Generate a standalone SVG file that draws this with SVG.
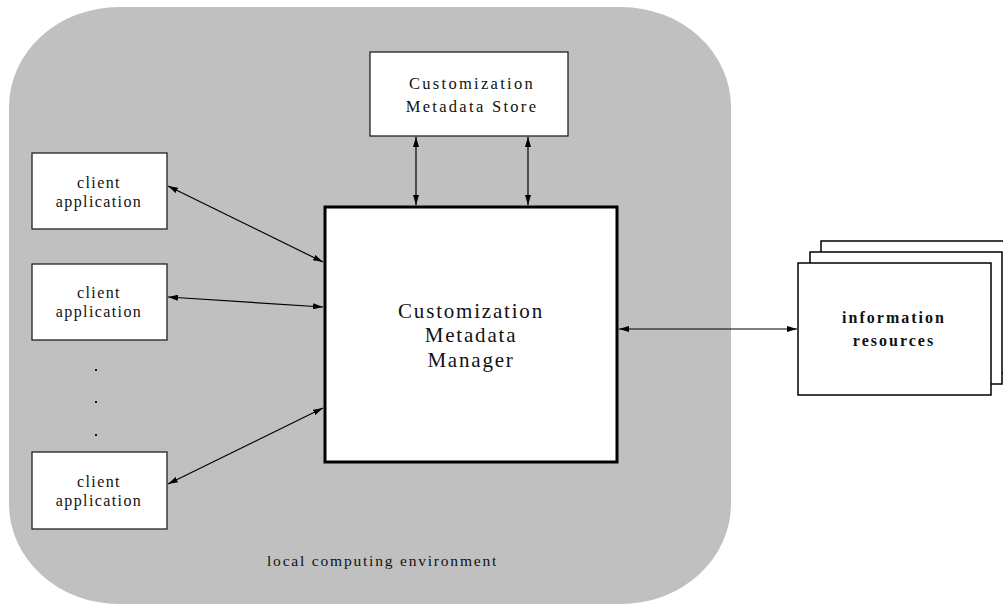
<svg xmlns="http://www.w3.org/2000/svg" width="1003" height="604" viewBox="0 0 1003 604">
  <style>
    text { font-family: "Liberation Serif", "Times New Roman", serif; fill: #111; text-anchor: middle; }
    .box { fill: #fff; stroke: #222; stroke-width: 1.3; }
    .mgr { fill: #fff; stroke: #000; stroke-width: 3; }
    .page { fill: #fff; stroke: #000; stroke-width: 1.5; }
    .client { font-size: 16px; letter-spacing: 1.4px; }
    .store { font-size: 16.5px; letter-spacing: 2.3px; }
    .big { font-size: 21px; letter-spacing: 1.8px; }
    .res { font-size: 16px; font-weight: bold; letter-spacing: 2px; }
    .env { font-size: 15.5px; letter-spacing: 1.8px; text-anchor: start; }
    .link { stroke: #000; stroke-width: 1.2; fill: none; marker-start: url(#head); marker-end: url(#head); }
  </style>
  <defs>
    <marker id="head" viewBox="0 0 10 6" refX="10" refY="3" markerWidth="10" markerHeight="6" markerUnits="userSpaceOnUse" orient="auto-start-reverse">
      <path d="M0,0 L10,3 L0,6 Z" fill="#000"/>
    </marker>
  </defs>

  <!-- local computing environment -->
  <g id="environment">
    <path d="M119,7 H621 A110,100 0 0 1 731,107 V504 A110,100 0 0 1 621,604 H119 A110,100 0 0 1 9,504 V107 A110,100 0 0 1 119,7 Z" fill="#c0c0c0"/>
    <text class="env" x="267" y="566">local computing environment</text>
  </g>

  <g id="store">
    <rect class="box" x="370" y="52" width="198" height="84"/>
    <text class="store" x="472" y="89">Customization</text>
    <text class="store" x="472" y="112">Metadata Store</text>
  </g>

  <g id="manager">
    <rect class="mgr" x="325" y="207" width="292" height="255"/>
    <text class="big" x="471" y="318">Customization</text>
    <text class="big" x="471" y="342">Metadata</text>
    <text class="big" x="471" y="367">Manager</text>
  </g>

  <g id="client1">
    <rect class="box" x="32" y="153" width="135" height="76"/>
    <text class="client" x="99" y="188">client</text>
    <text class="client" x="99" y="207">application</text>
  </g>

  <g id="client2">
    <rect class="box" x="32" y="264" width="135" height="76"/>
    <text class="client" x="99" y="298">client</text>
    <text class="client" x="99" y="317">application</text>
  </g>

  <g id="ellipsis" fill="#111">
    <rect x="95" y="369" width="2" height="2"/>
    <rect x="95" y="401" width="2" height="2"/>
    <rect x="95" y="434" width="2" height="2"/>
  </g>

  <g id="client3">
    <rect class="box" x="32" y="452" width="135" height="77"/>
    <text class="client" x="99" y="487">client</text>
    <text class="client" x="99" y="506">application</text>
  </g>

  <g id="resources">
    <rect class="page" x="821" y="241" width="200" height="132"/>
    <rect class="page" x="810" y="252" width="192" height="132"/>
    <rect class="page" x="798" y="263" width="193" height="132"/>
    <text class="res" x="894" y="323">information</text>
    <text class="res" x="894" y="346">resources</text>
  </g>

  <g id="connectors">
    <line class="link" x1="416" y1="137" x2="416" y2="205"/>
    <line class="link" x1="528" y1="137" x2="528" y2="205"/>
    <line class="link" x1="168" y1="186" x2="323" y2="262"/>
    <line class="link" x1="168" y1="297" x2="323" y2="307"/>
    <line class="link" x1="168" y1="484" x2="323" y2="408"/>
    <line class="link" x1="619" y1="329" x2="797" y2="329"/>
  </g>
</svg>
